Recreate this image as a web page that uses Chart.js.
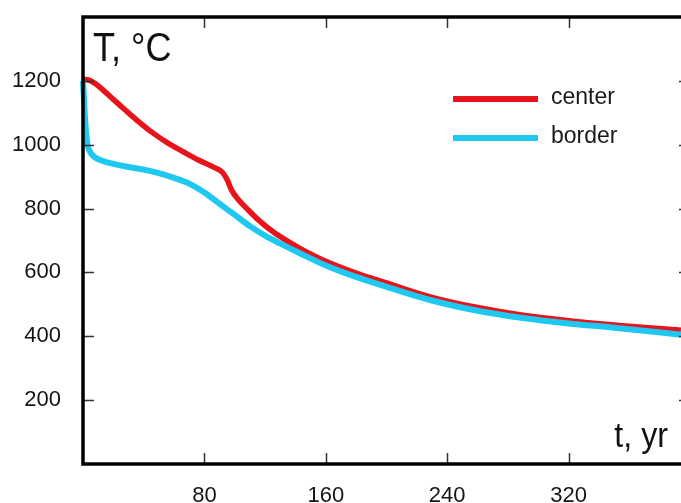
<!DOCTYPE html>
<html>
<head>
<meta charset="utf-8">
<script src="https://cdn.jsdelivr.net/npm/chart.js@4/dist/chart.umd.min.js"></script>
<style>
html,body{margin:0;padding:0;background:#fff;overflow:hidden;width:681px;height:503px;}
#wrap{width:700px;height:503px;}
</style>
</head>
<body>
<div id="wrap"><canvas id="c" width="700" height="503"></canvas></div>
<script>
// ---- data ----
const tCenter = [0, 4, 8, 14, 20, 28, 36, 46, 56, 66, 76, 86, 92, 95, 98, 102, 108, 115, 125, 135, 145, 160, 180, 200, 230, 260, 290, 320, 350, 394];
const tempCenter = [1205, 1202, 1192, 1168, 1142, 1108, 1075, 1037, 1005, 978, 952, 930, 913, 890, 857, 830, 800, 767, 728, 697, 670, 635, 598, 567, 522, 490, 466, 449, 435, 419];
const tBorder = [0, 1, 2, 3, 5, 8, 13, 20, 30, 40, 50, 60, 70, 80, 90, 100, 110, 120, 130, 143, 160, 180, 200, 230, 260, 290, 320, 350, 394];
const tempBorder = [1200, 1110, 1040, 1000, 975, 960, 949, 940, 930, 922, 911, 896, 878, 850, 815, 780, 745, 715, 690, 660, 622, 586, 555, 512, 480, 457, 440, 427, 405];
const xTickLabels = [80, 160, 240, 320];
const yTickLabels = [200, 400, 600, 800, 1000, 1200];
const seriesNames = ['center', 'border'];
const yTitle = 'T, °C';
const xTitle = 't, yr';

const RED = '#e8141b';
const BLUE = '#1ec8f0';
const FONT = "'Liberation Sans', Arial, sans-serif";

function pts(xs, ys){ return xs.map((x,i)=>({x:x, y:ys[i]})); }

const framePlugin = {
  id:'frame',
  afterDatasetsDraw(chart){
    const {ctx, chartArea:a, scales:{x, y}} = chart;
    ctx.save();
    // inward tick marks
    ctx.strokeStyle = '#333';
    ctx.lineWidth = 1.5;
    const tl = 11;
    xTickLabels.forEach(v=>{
      const px = Math.round(x.getPixelForValue(v)) + 0.5;
      ctx.beginPath();
      ctx.moveTo(px, a.bottom); ctx.lineTo(px, a.bottom - tl);
      ctx.moveTo(px, a.top); ctx.lineTo(px, a.top + tl);
      ctx.stroke();
    });
    yTickLabels.forEach(v=>{
      const py = Math.round(y.getPixelForValue(v)) + 0.5;
      ctx.beginPath();
      ctx.moveTo(a.left, py); ctx.lineTo(a.left + tl, py);
      ctx.moveTo(a.right, py); ctx.lineTo(a.right - tl, py);
      ctx.stroke();
    });
    // frame
    ctx.strokeStyle = '#000';
    ctx.lineWidth = 3.5;
    ctx.strokeRect(a.left, a.top, a.right - a.left, a.bottom - a.top);
    // axis titles
    ctx.fillStyle = '#111';
    ctx.textBaseline = 'alphabetic';
    ctx.save();
    ctx.translate(a.left + 10, 61);
    ctx.scale(0.9, 1);
    ctx.font = '40px ' + FONT;
    ctx.textAlign = 'left';
    ctx.fillText(yTitle, 0, 0);
    ctx.restore();
    ctx.save();
    ctx.translate(668, 447);
    ctx.scale(0.92, 1);
    ctx.font = '35px ' + FONT;
    ctx.textAlign = 'right';
    ctx.fillText(xTitle, 0, 0);
    ctx.restore();
    // legend
    const items = [{c:RED, t:seriesNames[0], y:99},{c:BLUE, t:seriesNames[1], y:138}];
    ctx.font = '23px ' + FONT;
    ctx.textAlign = 'left';
    ctx.textBaseline = 'middle';
    items.forEach(it=>{
      ctx.strokeStyle = it.c;
      ctx.lineWidth = 6;
      ctx.lineCap = 'butt';
      ctx.beginPath(); ctx.moveTo(453, it.y); ctx.lineTo(538, it.y); ctx.stroke();
      ctx.fillStyle = '#1a1a1a';
      ctx.fillText(it.t, 551, it.y - 1);
    });
    ctx.restore();
  }
};

new Chart(document.getElementById('c'), {
  type:'line',
  data:{
    datasets:[
      {label:seriesNames[1], data:pts(tBorder, tempBorder), borderColor:BLUE, borderWidth:6, pointRadius:0, cubicInterpolationMode:'monotone', order:0, clip:false},
      {label:seriesNames[0], data:pts(tCenter, tempCenter), borderColor:RED, borderWidth:5.5, pointRadius:0, cubicInterpolationMode:'monotone', order:1, clip:false}
    ]
  },
  options:{
    responsive:false,
    animation:false,
    devicePixelRatio:1,
    layout:{padding:{top:17, right:10, left:0, bottom:0}},
    plugins:{legend:{display:false}, tooltip:{enabled:false}},
    scales:{
      x:{
        type:'linear', min:0, max:400,
        afterBuildTicks(s){ s.ticks = xTickLabels.map(v=>({value:v})); },
        afterFit(s){ s.height = 39; s.paddingLeft = 0; s.paddingRight = 0; },
        grid:{display:false, drawTicks:false},
        border:{display:false},
        ticks:{padding:19, color:'#151515', font:{family:FONT, size:22}, maxRotation:0, autoSkip:false, callback:v=>String(v)}
      },
      y:{
        type:'linear', min:0, max:1400,
        afterBuildTicks(s){ s.ticks = yTickLabels.map(v=>({value:v})); },
        afterFit(s){ s.width = 83; s.paddingTop = 0; s.paddingBottom = 0; },
        grid:{display:false, drawTicks:false},
        border:{display:false},
        ticks:{padding:22, color:'#151515', font:{family:FONT, size:22}, autoSkip:false, callback:v=>String(v)}
      }
    }
  },
  plugins:[framePlugin]
});
</script>
</body>
</html>
